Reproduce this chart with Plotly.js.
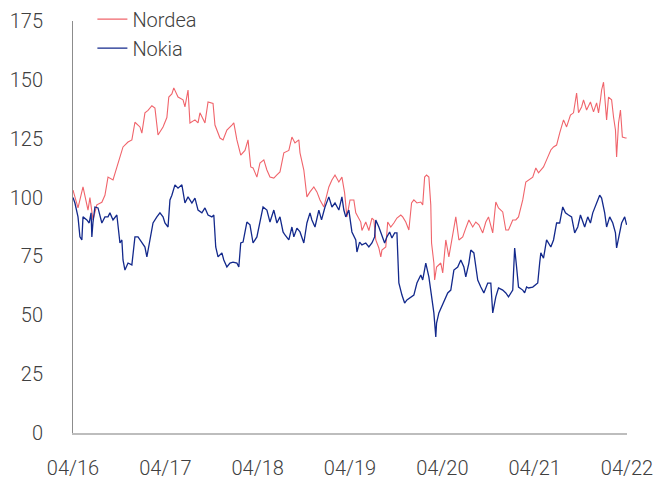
<!DOCTYPE html>
<html>
<head>
<meta charset="utf-8">
<script src="https://cdn.plot.ly/plotly-3.0.1.min.js"></script>
<style>html,body{margin:0;padding:0;background:#fff;}#chart{width:655px;height:479px;}</style>
</head>
<body>
<div id="chart"></div>
<script>
// x = months since April 2016
const tickMonths = [0, 12, 24, 36, 48, 60, 72];
const tickLabels = ['04/16', '04/17', '04/18', '04/19', '04/20', '04/21', '04/22'];
const yTicks = [0, 25, 50, 75, 100, 125, 150, 175];

const nordeaMonths = [0.0,0.65,1.3,1.95,2.2,2.6,3.1,3.75,4.15,4.55,5.2,5.7,6.1,6.5,7.15,7.65,8.05,8.7,8.95,9.35,9.75,10.25,10.65,11.05,11.7,12.2,12.45,12.85,13.1,13.65,14.3,14.55,14.95,15.2,15.85,16.25,16.5,17.15,17.55,18.2,18.45,19.1,19.5,20.0,20.65,20.9,21.3,21.8,22.35,22.75,23.1,23.4,23.9,24.3,24.8,25.2,25.6,26.1,26.5,26.9,27.4,28.05,28.45,28.85,29.35,29.5,30.0,30.4,30.8,31.3,31.7,32.1,32.6,33.25,33.65,34.05,34.55,34.95,35.3,35.6,36.0,36.5,36.75,37.4,37.55,38.05,38.45,38.85,39.1,39.35,39.75,40.0,40.15,40.65,40.9,41.3,41.7,42.1,42.6,42.85,43.25,43.65,44.0,44.3,44.7,45.2,45.45,45.7,45.95,46.25,46.5,46.6,46.9,47.0,47.25,47.8,48.05,48.45,48.85,49.35,49.75,50.15,50.65,51.05,51.45,51.95,52.35,52.75,53.25,53.65,54.0,54.55,54.95,55.3,55.85,56.25,56.6,57.15,57.55,57.9,58.45,58.85,59.2,59.75,60.15,60.5,60.8,61.15,61.55,62.1,62.45,62.85,63.25,63.75,64.15,64.65,65.05,65.45,65.7,66.1,66.35,66.75,67.25,67.65,68.05,68.3,68.55,68.7,68.95,69.2,69.35,69.6,70.0,70.25,70.5,70.65,70.9,71.15,71.4,71.8,71.95];
const nordeaValues = [103.2,95.6,104.5,94.7,100,90.5,96.9,98,101,108.7,107.5,113,118,121.5,123.6,124.5,132,130,127.4,136,137,139,138,126.6,130,134,142.7,144,146.6,142.7,141.5,138.5,145.7,131.7,133,131.7,136,131.7,140.6,140,130.8,125.3,124.5,128.7,130.8,131.7,124.5,118,120,124.5,113,112.6,108.7,114.7,116,111.7,108.7,108.3,109.6,110.9,119,120,125.7,123.2,124.5,119,111.7,100.3,102.4,104.5,102.4,99,96,104.5,107.5,109.6,106.6,108.7,102,91.8,99,99,93.5,89.6,86,89.6,86,91.3,90.5,82,78.6,74.8,77.7,79,89.6,87.5,89.2,91.3,92.6,91.8,89.6,86.2,97.7,99,97.7,98.1,96.9,108.7,109.6,108.7,96.9,80.7,72.2,65,70.5,72.2,68,82,74.8,85,91.8,82,83.3,87,90.5,87.5,89.6,88.4,85,89.6,91.8,85,98.1,95.6,93.9,86.2,86.2,90.5,90.5,91.8,99,106.6,107.5,108.7,112.6,110.5,111.7,113,116,120.2,121.5,122.3,127.4,133,130,135,136,144.4,136,138.5,141.5,137.2,140.6,136.4,140.2,136,141.5,145.7,149,140.6,133,142.7,141.5,134.2,128.7,117.2,131.7,137.2,125.7,125.3,125.3];

const nokiaMonths = [0,0.25,0.65,0.9,1.15,1.3,1.8,2.1,2.35,2.45,2.6,2.85,3.25,3.75,4.15,4.55,4.8,5.2,5.7,5.85,6.1,6.35,6.5,6.75,7.15,7.65,8.05,8.45,8.95,9.35,9.6,10.0,10.4,10.9,11.3,11.7,11.95,12.35,12.6,12.85,13.25,13.65,14.15,14.55,14.95,15.45,15.85,16.25,16.75,17.15,17.55,18.05,18.3,18.55,18.85,19.35,19.6,20.0,20.4,20.8,21.3,21.55,21.8,22.1,22.6,23.0,23.4,23.9,24.3,24.7,25.2,25.6,26.1,26.5,26.9,27.3,27.55,28.05,28.45,28.7,29.1,29.5,30.0,30.4,30.8,31.05,31.45,31.95,32.3,32.75,33.25,33.65,34.05,34.55,34.95,35.2,35.45,35.85,36.25,36.75,36.9,37.25,37.55,38.05,38.45,38.85,39.2,39.35,39.75,40.15,40.5,40.8,41.15,41.45,41.8,42.1,42.35,42.75,43.1,43.4,43.9,44.3,44.7,45.2,45.45,45.85,46.25,46.6,46.9,47.15,47.25,47.55,47.9,48.45,48.7,49.1,49.5,50.0,50.4,50.8,51.05,51.45,51.7,52.1,52.6,53.0,53.4,53.9,54.3,54.55,54.95,55.3,55.85,56.25,56.6,57.15,57.4,57.65,57.9,58.45,58.7,58.95,59.2,59.75,60.15,60.4,60.65,60.8,61.15,61.55,62.1,62.45,62.85,63.25,63.65,64.0,64.4,64.8,65.2,65.6,65.95,66.5,66.9,67.25,67.55,68.05,68.45,68.7,69.1,69.35,69.75,70.15,70.5,70.65,71.05,71.3,71.7,71.95];
const nokiaValues = [100,97.7,91.8,83.3,82,91.8,90.5,89.2,93.5,83.3,89.6,96,95.6,89.2,91.8,91.8,93.5,90.5,92.6,87.5,80.7,82,73.5,69.2,72.2,71.4,83.3,83.3,80.7,79,74.8,82,89.2,91.8,93.5,91.8,89.2,87.5,99,101,105.4,104,105.4,97.7,100.3,97.7,99.8,94.7,93.5,95.6,92.6,91.8,92.6,79,74.8,76.5,73.5,70.5,72.2,72.6,72.2,70.5,80.7,81.1,89.6,88.4,80.7,83.3,89.2,96,94.7,89.6,94.7,89.2,91.8,85.4,84.1,82,87.5,83.3,87,85.4,80.7,89.2,93.5,90.5,87.5,94.7,90.5,96,100.3,96,97.7,94.7,100.3,94.7,91.8,94.7,85.4,82,76.9,81.1,79.9,80.7,79,80.7,83.3,90.5,87.5,84.1,80.7,83.3,85.4,82.8,85,85,63.7,58.6,55.2,56.5,57.8,58.6,63.7,67.1,65,72.2,66.3,57.8,51,40.8,46.7,51,53.5,57.8,59.5,60.7,69.2,70.5,73.5,70.5,66.3,72.2,77.7,76.5,65,62,59.5,63.7,63.7,51,57.8,61.6,60.7,59.5,57.8,60.7,78.6,70.5,62,60.7,59.5,62,61.6,62,62.9,63.7,72.2,76.5,74.3,82,79,82,89.2,89.2,96,93.5,92.6,91.8,85,87.5,92.6,87.5,91.8,89.2,93.5,97.7,101,99.8,93.5,87.5,91.8,89.2,85,78.6,86.2,89.2,91.8,88.4];

const fontFamily = 'Roboto, "Liberation Sans", sans-serif';
const textColor = '#404040';
const tickFont = {family: fontFamily, size: 20, color: textColor, weight: 300};

const traces = [
  {x: nordeaMonths, y: nordeaValues, name: 'Nordea', type: 'scatter', mode: 'lines',
   line: {color: '#F0646B', width: 1.1}},
  {x: nokiaMonths, y: nokiaValues, name: 'Nokia', type: 'scatter', mode: 'lines',
   line: {color: '#13298C', width: 1.3}}
];

const layout = {
  width: 655, height: 479,
  margin: {l: 73, r: 28, t: 21, b: 46, autoexpand: false},
  paper_bgcolor: '#ffffff', plot_bgcolor: '#ffffff',
  font: {family: fontFamily, color: textColor, size: 20, weight: 300},
  showlegend: true,
  legend: {x: 0.035, y: 1.052, xanchor: 'left', yanchor: 'top', bgcolor: 'rgba(0,0,0,0)',
           font: tickFont, tracegroupgap: 0, itemwidth: 30},
  xaxis: {range: [0, 72], tickvals: tickMonths, ticktext: tickLabels, showgrid: false, zeroline: false,
          showline: true, linecolor: '#bdbdbd', linewidth: 2, ticks: '', ticklabelstandoff: 16,
          tickfont: tickFont, fixedrange: true, automargin: false},
  yaxis: {range: [0, 175], tickvals: yTicks, showgrid: false, zeroline: false,
          showline: true, linecolor: '#8c8c8c', linewidth: 1, ticks: '', ticklabelstandoff: 25,
          tickfont: tickFont, fixedrange: true, automargin: false}
};

Plotly.newPlot('chart', traces, layout, {displayModeBar: false, staticPlot: true});
</script>
</body>
</html>
